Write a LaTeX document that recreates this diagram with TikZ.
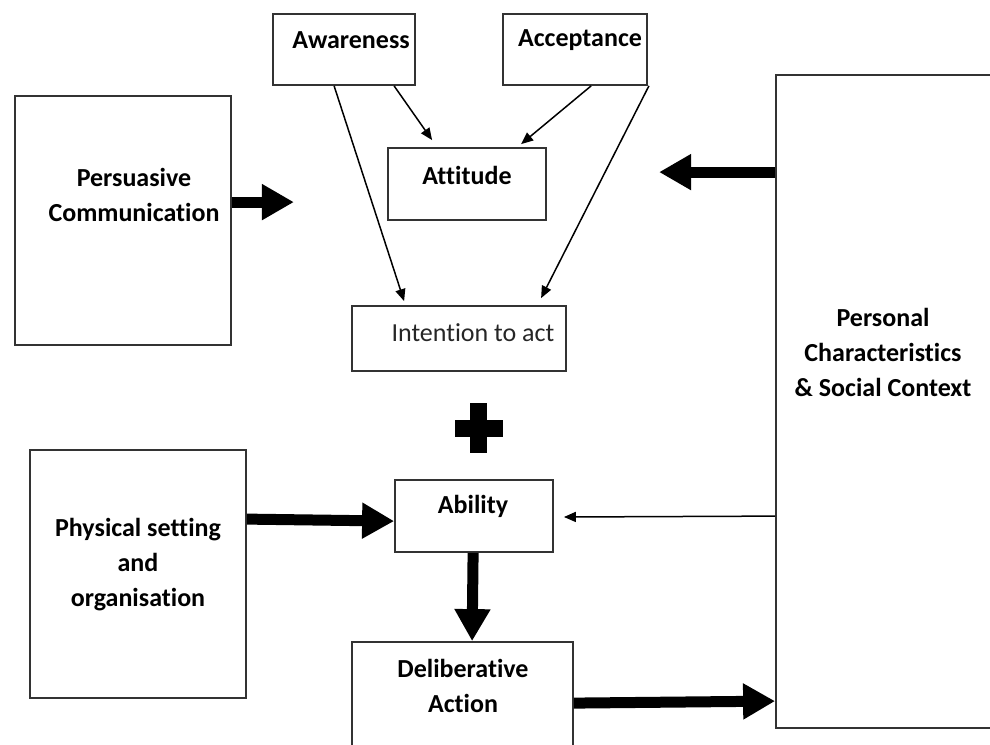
\documentclass[tikz,border=0pt]{standalone}
\usepackage{fontspec}
\setmainfont{Carlito}[Ligatures={NoCommon}]
\usetikzlibrary{arrows.meta,calc}
\begin{document}
\begin{tikzpicture}[x=1pt,y=-1pt,
  box/.style={draw=black!80, line width=1.8pt, fill=white, inner sep=0pt},
  lbl/.style={font=\fontsize{26}{35}\selectfont\bfseries, align=center, text=black, inner sep=0pt},
  lblr/.style={font=\fontsize{26}{35}\selectfont, align=center, text=black!85, inner sep=0pt},
  thick arrow/.style={line width=11pt, -{Triangle[length=32pt,width=34pt]}},
  thin arrow/.style={line width=1.5pt, -{Triangle[length=12pt,width=10pt]}}]
\useasboundingbox (0,0) rectangle (990,744);
\clip (0,0) rectangle (990,744);
\fill[white] (0,0) rectangle (990,744);
% boxes
\node[box, minimum width=142pt, minimum height=71pt] (aw) at (344,49.5) {};
\node[box, minimum width=144pt, minimum height=71pt] (ac) at (575,49.5) {};
\node[box, minimum width=158pt, minimum height=72pt] (at) at (467,184) {};
\node[box, minimum width=216pt, minimum height=249pt] (pc) at (123,220.5) {};
\node[box, minimum width=214pt, minimum height=65pt] (it) at (459,338.5) {};
\node[box, minimum width=216pt, minimum height=248pt] (ps) at (138,574) {};
\node[box, minimum width=158pt, minimum height=72pt] (ab) at (474,516) {};
\node[box, minimum width=221pt, minimum height=130pt] (da) at (462.5,707) {};
\node[box, minimum width=230pt, minimum height=653pt] (pe) at (891,401.5) {};
% labels
\node[lbl] at (351,40) {Awareness};
\node[lbl] at (580,40) {Acceptance};
\node[lbl] at (467,175) {Attitude};
\node[lbl] at (134,195) {Persuasive\\Communication};
\node[lblr] at (473,333) {Intention to act};
\node[lbl] at (138,565) {Physical setting\\and\\organisation};
\node[lbl] at (463,686) {Deliberative\\Action};
\node[lbl] at (473,506) {Ability};
\node[lbl] at (883,352) {Personal\\Characteristics\\\& Social Context};
% plus sign
\fill[black] (455,420) rectangle (503,437);
\fill[black] (470,403) rectangle (487,453);
% thick arrows
\coordinate (pctip) at ($(pc.north east)+(62,107)$);
\draw[thick arrow] ($(pc.north east)+(0,107)$) -- (pctip);
\coordinate (petip) at ($(pe.north west)+(-116,98)$);
\draw[thick arrow] ($(pe.north west)+(0,98)$) -- (petip);
\draw[thick arrow] ($(ps.north east)+(0,70)$) -- ($(ab.north west)+(0,42)$);
\draw[thick arrow] ($(ab.south west)+(79,0)$) -- ($(da.north west)+(121,0)$);
\draw[thick arrow] ($(da.north east)+(0,62)$) -- ($(pe.north west)+(0,627)$);
% thin arrows
\draw[thin arrow] ($(pe.north west)+(0,442)$) -- ($(ab.east)+(10,1)$);
\draw[thin arrow] ($(aw.south west)+(62,0)$) -- ($(it.north west)+(53,-4)$);
\draw[thin arrow] ($(aw.south west)+(122,0)$) -- ($(at.north west)+(45,-7)$);
\draw[thin arrow] ($(ac.south west)+(89,0)$) -- ($(at.north west)+(134,-3)$);
\draw[thin arrow] ($(ac.south east)+(1,0)$) -- ($(it.north west)+(190,-7)$);
\end{tikzpicture}
\end{document}
